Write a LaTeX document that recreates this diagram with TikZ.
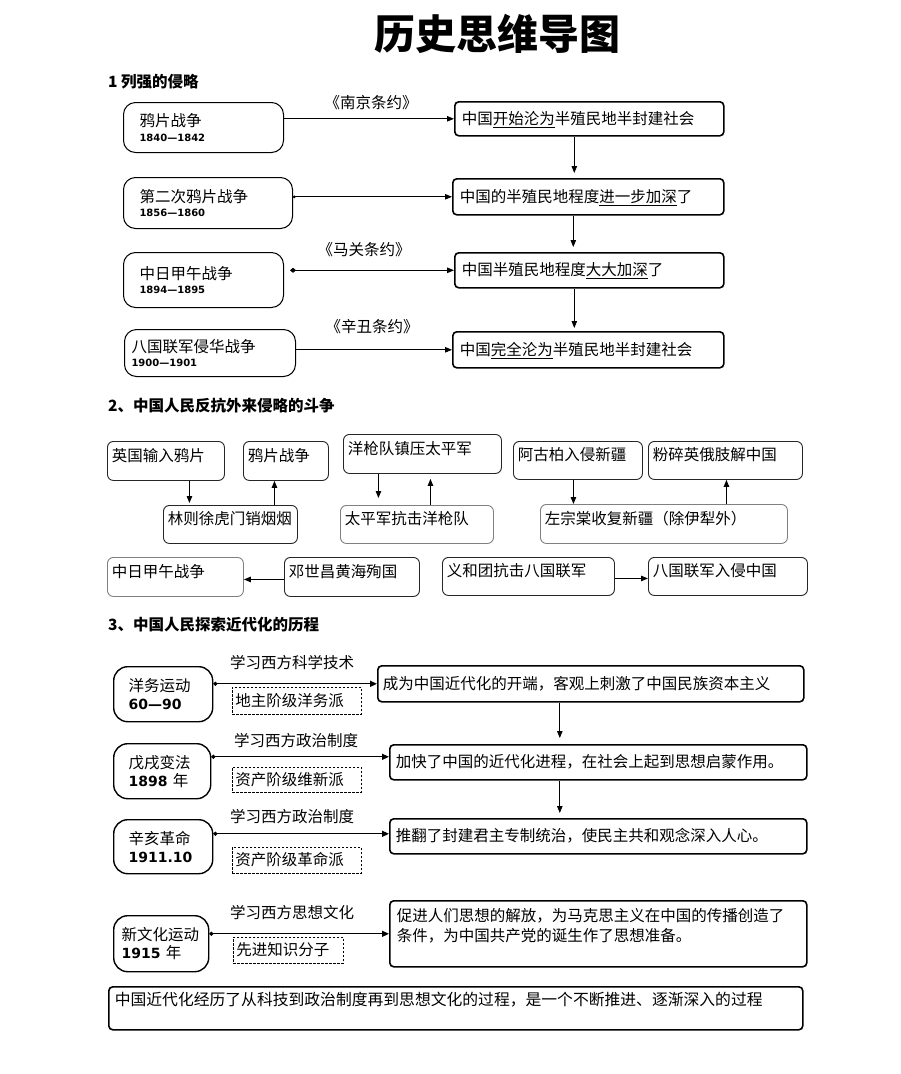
\documentclass[tikz,border=0pt]{standalone}
\usepackage{fontspec}
\setmainfont{Noto Sans CJK SC}
\newfontfamily\numfont{DejaVu Sans}
\usetikzlibrary{arrows.meta}

\newcommand\yr[1]{{\numfont\bfseries\fontsize{10}{12}\selectfont #1}}
\newcommand\yrbig[1]{{\numfont\bfseries\fontsize{14}{16}\selectfont #1}}

\tikzset{
  txt/.style={font=\fontsize{15.5}{18}\selectfont},
  head/.style={anchor=west, inner sep=0pt, font=\bfseries\fontsize{15.5}{18}\selectfont},
  warbox/.style={draw, line width=1pt, rounded corners=12pt, anchor=north west, align=left,
    inner xsep=16pt, inner ysep=2pt, font=\fontsize{15.5}{14.5}\selectfont},
  resbox/.style={draw, line width=1.6pt, rounded corners=4pt, anchor=north west, align=left,
    inner xsep=7pt, text height=13pt, text depth=2pt, txt},
  fightbox/.style={draw=black!85, line width=0.9pt, rounded corners=6pt, anchor=north west, align=left,
    inner xsep=4.5pt, inner ysep=0pt, text height=13pt, text depth=12pt, txt},
  palebox/.style={fightbox, draw=black!50},
  movebox/.style={draw, line width=1.4pt, rounded corners=14pt, anchor=north west, align=left,
    inner xsep=15pt, inner ysep=2pt, font=\fontsize{15.5}{18}\selectfont},
  partybox/.style={draw, line width=0.8pt, dash pattern=on 2.5pt off 1.5pt, anchor=north west, align=left,
    inner xsep=3pt, inner ysep=0pt, text height=13pt, text depth=2pt, txt},
  arr/.style={line width=1pt, -{Triangle[length=7pt,width=5.5pt]}},
  dotarr/.style={line width=1pt, {Circle[length=2.5pt]}-{Triangle[length=7pt,width=5.5pt]}},
  diaarr/.style={line width=1pt, {Diamond[length=6pt,width=5pt]}-{Triangle[length=7pt,width=5.5pt]}},
  thinarr/.style={line width=0.8pt, -{Triangle[length=7pt,width=5.5pt]}},
  modarr/.style={line width=1.3pt, {Circle[length=4pt]}-{Triangle[length=7pt,width=6pt]}},
}

\begin{document}
\begin{tikzpicture}[x=1pt, y=-1pt]
 \fill[white] (0,0) rectangle (900,1074);
 \useasboundingbox (0,0) rectangle (900,1074);

 \node[font=\bfseries\fontsize{41}{48}\selectfont] (title) at (497,34) {历史思维导图};

 % 1
 \node[head] (h1) at (108,82) {1 列强的侵略};
 \node[warbox, text width=128pt, minimum height=50pt] (war1) at (123,102) {鸦片战争\\\yr{1840—1842}};
 \node[warbox, text width=137pt, minimum height=51pt] (war2) at (123,177) {第二次鸦片战争\\\yr{1856—1860}};
 \node[warbox, text width=128pt, minimum height=55pt] (war3) at (123,252) {中日甲午战争\\\yr{1894—1895}};
 \node[warbox, inner xsep=7pt, text width=157pt, minimum height=47pt] (war4) at (124,329) {八国联军侵华战争\\\yr{1900—1901}};

 \node[resbox, text width=255pt, minimum height=34pt] (res1) at (454,101) {中国\underline{开始沦为}半殖民地半封建社会};
 \node[resbox, text width=257pt, minimum height=36pt] (res2) at (452,178) {中国的半殖民地程度\underline{进一步加深}了};
 \node[resbox, text width=255pt, minimum height=35pt] (res3) at (454,252) {中国半殖民地程度\underline{大大加深}了};
 \node[resbox, text width=257pt, minimum height=36pt] (res4) at (452,331) {中国\underline{完全沦为}半殖民地半封建社会};

 \node[txt] (nanjing) at (371,103) {《南京条约》};
 \node[txt] (maguan) at (364,250) {《马关条约》};
 \node[txt] (xinchou) at (372,327) {《辛丑条约》};

 \draw[arr] (war1.east |- res1.west) -- (res1.west);
 \draw[dotarr] (war2.east |- res2.west) -- (res2.west);
 \draw[diaarr] ([xshift=6pt]war3.east |- res3.west) -- (res3.west);
 \draw[arr] (war4.east |- res4.west) -- (res4.west);

 \draw[thinarr, shorten >=5pt] ([xshift=-15pt]res1.south) -- ([xshift=-15pt]res1.south |- res2.north);
 \draw[thinarr, shorten >=5pt] ([xshift=-15pt]res2.south) -- ([xshift=-15pt]res2.south |- res3.north);
 \draw[thinarr, shorten >=3pt] ([xshift=-15pt]res3.south) -- ([xshift=-15pt]res3.south |- res4.north);

 % 2
 \node[head] (h2) at (108,406) {2、中国人民反抗外来侵略的斗争};
 \node[fightbox, text width=108pt, minimum height=39pt] (yg) at (107,441) {英国输入鸦片};
 \node[fightbox, text width=76pt, minimum height=39pt] (ypzz) at (243,441) {鸦片战争};
 \node[fightbox, text width=125pt, minimum height=38pt] (lzx) at (163,505) {林则徐虎门销烟烟};
 \node[fightbox, text width=149pt, minimum height=39pt] (yqd) at (343,434) {洋枪队镇压太平军};
 \node[palebox, text width=144pt, minimum height=38pt] (tpj) at (340,505) {太平军抗击洋枪队};
 \node[fightbox, text width=120pt, minimum height=38pt] (agb) at (513,441) {阿古柏入侵新疆};
 \node[fightbox, text width=145pt, minimum height=38pt] (fs) at (648,441) {粉碎英俄肢解中国};
 \node[palebox, text width=238pt, minimum height=39pt] (zzt) at (540,504) {左宗棠收复新疆（除伊犁外）};
 \node[palebox, text width=127pt, minimum height=39pt] (zr) at (107,557) {中日甲午战争};
 \node[fightbox, text width=126pt, minimum height=39pt] (dsc) at (284,557) {邓世昌黄海殉国};
 \node[fightbox, text width=163pt, minimum height=38pt] (yht) at (442,557) {义和团抗击八国联军};
 \node[fightbox, text width=150pt, minimum height=38pt] (bglj) at (648,557) {八国联军入侵中国};

 \draw[arr, shorten >=2pt] ([xshift=23.5pt]yg.south) -- ([xshift=23.5pt]yg.south |- lzx.north);
 \draw[arr] ([xshift=44pt]lzx.north) -- ([xshift=44pt]lzx.north |- ypzz.south);
 \draw[arr, shorten >=7pt] ([xshift=-44pt]yqd.south) -- ([xshift=-44pt]yqd.south |- tpj.north);
 \draw[arr, shorten >=5pt] ([xshift=13.5pt]tpj.north) -- ([xshift=13.5pt]tpj.north |- yqd.south);
 \draw[arr] ([xshift=-4.5pt]agb.south) -- ([xshift=-4.5pt]agb.south |- zzt.north);
 \draw[arr] ([xshift=62.5pt]zzt.north) -- ([xshift=62.5pt]zzt.north |- fs.south);
 \draw[arr] ([yshift=-2.5pt]dsc.west) -- ([yshift=-2.5pt]dsc.west -| zr.east);
 \draw[arr] ([yshift=-2pt]yht.east) -- ([yshift=-2pt]yht.east -| bglj.west);

 % 3
 \node[head] (h3) at (108,625) {3、中国人民探索近代化的历程};
 \node[movebox, text width=69pt, minimum height=55pt] (yw) at (113,666) {洋务运动\\\yrbig{60—90}};
 \node[movebox, text width=67pt, minimum height=55pt] (wx) at (113,743) {戊戌变法\\\yrbig{1898} 年};
 \node[movebox, text width=69pt, minimum height=54pt] (xh) at (113,819) {辛亥革命\\\yrbig{1911.10}};
 \node[movebox, inner xsep=8pt, text width=79pt, minimum height=56pt] (xwh) at (113,915) {新文化运动\\\yrbig{1915} 年};

 \node[txt] (learn1) at (292,663) {学习西方科学技术};
 \node[txt] (learn2) at (296,741) {学习西方政治制度};
 \node[txt] (learn3) at (292,817) {学习西方政治制度};
 \node[txt] (learn4) at (292,913) {学习西方思想文化};

 \node[partybox, text width=123pt, minimum height=27pt] (p1) at (232,687) {地主阶级洋务派};
 \node[partybox, text width=123pt, minimum height=25pt] (p2) at (232,767) {资产阶级维新派};
 \node[partybox, text width=123pt, minimum height=26pt] (p3) at (232,847) {资产阶级革命派};
 \node[partybox, text width=104pt, minimum height=26pt] (p4) at (233,937) {先进知识分子};

 \node[resbox, inner xsep=5pt, text width=416pt, minimum height=36pt] (r1) at (377,665) {成为中国近代化的开端，客观上刺激了中国民族资本主义};
 \node[resbox, inner xsep=6pt, text width=405pt, minimum height=35pt] (r2) at (389,744) {加快了中国的近代化进程，在社会上起到思想启蒙作用。};
 \node[resbox, inner xsep=6pt, text width=405pt, minimum height=35pt] (r3) at (389,818) {推翻了封建君主专制统治，使民主共和观念深入人心。};
 \node[resbox, inner xsep=7pt, inner ysep=3.5pt, text width=403pt, text height=17pt, text depth=42pt,
   font=\fontsize{15.5}{20}\selectfont] (r4) at (389,900) {促进人们思想的解放，为马克思主义在中国的传播创造了\\条件，为中国共产党的诞生作了思想准备。};
 \node[resbox, inner xsep=6pt, inner ysep=3pt, text width=682pt, text height=16pt, text depth=21pt,
   font=\fontsize{15.8}{20}\selectfont] (sum) at (108,986) {中国近代化经历了从科技到政治制度再到思想文化的过程，是一个不断推进、逐渐深入的过程};

 \draw[modarr] (yw.east |- r1.west) -- (r1.west);
 \draw[modarr] ([yshift=5.5pt]r2.west -| wx.east) -- ([yshift=5.5pt]r2.west);
 \draw[modarr] ([yshift=2.5pt]r3.west -| xh.east) -- ([yshift=2.5pt]r3.west);
 \draw[modarr] (r4.west -| xwh.east) -- (r4.west);

 \draw[thinarr, shorten >=6pt] ([xshift=-31pt]r1.south) -- ([xshift=-31pt]r1.south |- r2.north);
 \draw[thinarr, shorten >=5pt] ([xshift=-38.5pt]r2.south) -- ([xshift=-38.5pt]r2.south |- r3.north);
\end{tikzpicture}
\end{document}
